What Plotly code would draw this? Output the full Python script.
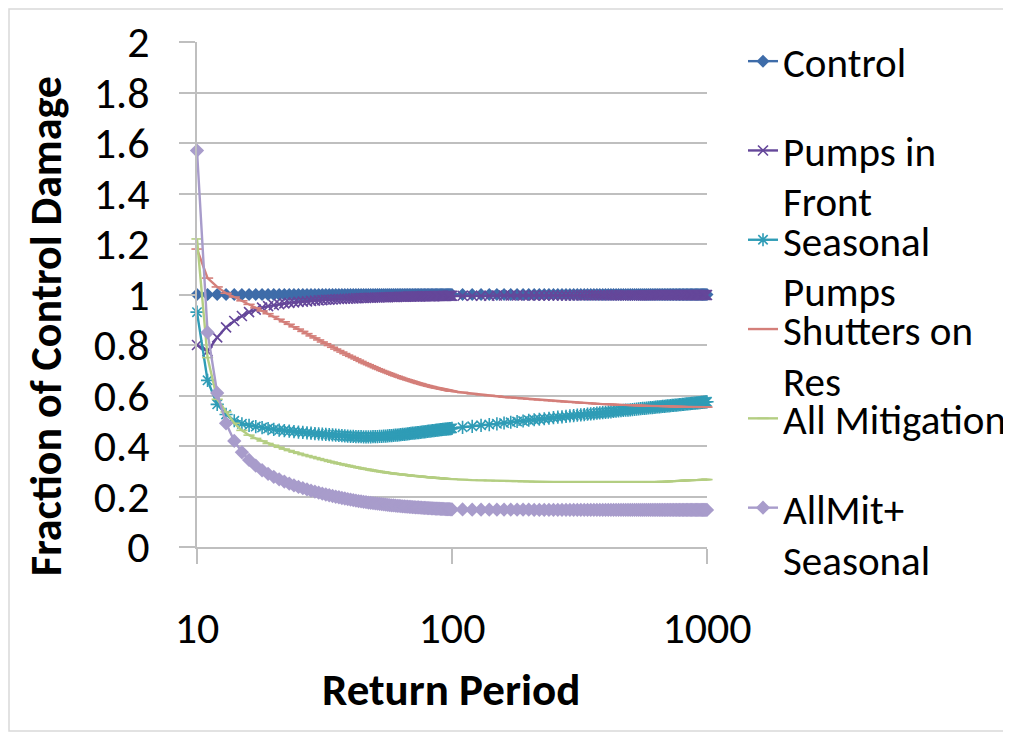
import plotly.graph_objects as go

# Return periods (x categories)
return_period = list(range(10, 101)) + list(range(110, 1001, 10))

control = [
    1.0, 1.0, 1.0, 1.0, 1.0, 1.0, 1.0, 1.0, 1.0, 1.0,
    1.0, 1.0, 1.0, 1.0, 1.0, 1.0, 1.0, 1.0, 1.0, 1.0,
    1.0, 1.0, 1.0, 1.0, 1.0, 1.0, 1.0, 1.0, 1.0, 1.0,
    1.0, 1.0, 1.0, 1.0, 1.0, 1.0, 1.0, 1.0, 1.0, 1.0,
    1.0, 1.0, 1.0, 1.0, 1.0, 1.0, 1.0, 1.0, 1.0, 1.0,
    1.0, 1.0, 1.0, 1.0, 1.0, 1.0, 1.0, 1.0, 1.0, 1.0,
    1.0, 1.0, 1.0, 1.0, 1.0, 1.0, 1.0, 1.0, 1.0, 1.0,
    1.0, 1.0, 1.0, 1.0, 1.0, 1.0, 1.0, 1.0, 1.0, 1.0,
    1.0, 1.0, 1.0, 1.0, 1.0, 1.0, 1.0, 1.0, 1.0, 1.0,
    1.0,
    1.0, 1.0, 1.0, 1.0, 1.0, 1.0, 1.0, 1.0, 1.0, 1.0,
    1.0, 1.0, 1.0, 1.0, 1.0, 1.0, 1.0, 1.0, 1.0, 1.0,
    1.0, 1.0, 1.0, 1.0, 1.0, 1.0, 1.0, 1.0, 1.0, 1.0,
    1.0, 1.0, 1.0, 1.0, 1.0, 1.0, 1.0, 1.0, 1.0, 1.0,
    1.0, 1.0, 1.0, 1.0, 1.0, 1.0, 1.0, 1.0, 1.0, 1.0,
    1.0, 1.0, 1.0, 1.0, 1.0, 1.0, 1.0, 1.0, 1.0, 1.0,
    1.0, 1.0, 1.0, 1.0, 1.0, 1.0, 1.0, 1.0, 1.0, 1.0,
    1.0, 1.0, 1.0, 1.0, 1.0, 1.0, 1.0, 1.0, 1.0, 1.0,
    1.0, 1.0, 1.0, 1.0, 1.0, 1.0, 1.0, 1.0, 1.0, 1.0,
]

pumps_in_front = [
    0.800, 0.775, 0.830, 0.870, 0.895, 0.915, 0.930, 0.940, 0.948, 0.954,
    0.958, 0.962, 0.965, 0.967, 0.969, 0.971, 0.972, 0.973, 0.975, 0.976,
    0.977, 0.978, 0.979, 0.979, 0.980, 0.981, 0.982, 0.982, 0.983, 0.983,
    0.984, 0.984, 0.985, 0.985, 0.986, 0.986, 0.986, 0.987, 0.987, 0.987,
    0.988, 0.988, 0.988, 0.989, 0.989, 0.989, 0.989, 0.990, 0.990, 0.990,
    0.990, 0.990, 0.991, 0.991, 0.991, 0.991, 0.991, 0.992, 0.992, 0.992,
    0.992, 0.992, 0.992, 0.992, 0.992, 0.992, 0.993, 0.993, 0.993, 0.993,
    0.993, 0.993, 0.993, 0.993, 0.993, 0.993, 0.994, 0.994, 0.994, 0.994,
    0.994, 0.994, 0.994, 0.994, 0.994, 0.994, 0.995, 0.995, 0.995, 0.995,
    0.995,
    0.995, 0.995, 0.995, 0.995, 0.996, 0.996, 0.996, 0.996, 0.996, 0.996,
    0.996, 0.996, 0.996, 0.996, 0.996, 0.996, 0.996, 0.996, 0.996, 0.996,
    0.997, 0.997, 0.997, 0.997, 0.997, 0.997, 0.997, 0.997, 0.997, 0.997,
    0.997, 0.997, 0.997, 0.997, 0.997, 0.997, 0.997, 0.997, 0.997, 0.997,
    0.997, 0.997, 0.997, 0.997, 0.997, 0.997, 0.997, 0.997, 0.997, 0.997,
    0.998, 0.998, 0.998, 0.998, 0.998, 0.998, 0.998, 0.998, 0.998, 0.998,
    0.998, 0.998, 0.998, 0.998, 0.998, 0.998, 0.998, 0.998, 0.998, 0.998,
    0.998, 0.998, 0.998, 0.998, 0.998, 0.998, 0.998, 0.998, 0.998, 0.998,
    0.998, 0.998, 0.998, 0.998, 0.998, 0.998, 0.998, 0.998, 0.998, 0.998,
]

seasonal_pumps = [
    0.930, 0.660, 0.565, 0.525, 0.500, 0.488, 0.482, 0.477, 0.473, 0.469,
    0.466, 0.463, 0.461, 0.459, 0.457, 0.455, 0.454, 0.452, 0.451, 0.449,
    0.448, 0.447, 0.446, 0.445, 0.444, 0.443, 0.442, 0.441, 0.440, 0.439,
    0.438, 0.438, 0.437, 0.437, 0.437, 0.436, 0.436, 0.436, 0.436, 0.437,
    0.437, 0.437, 0.438, 0.438, 0.439, 0.439, 0.440, 0.441, 0.441, 0.442,
    0.443, 0.443, 0.444, 0.445, 0.446, 0.446, 0.447, 0.448, 0.449, 0.450,
    0.451, 0.451, 0.452, 0.453, 0.453, 0.454, 0.455, 0.456, 0.456, 0.457,
    0.458, 0.459, 0.459, 0.460, 0.461, 0.461, 0.462, 0.463, 0.463, 0.464,
    0.465, 0.465, 0.466, 0.466, 0.467, 0.467, 0.468, 0.468, 0.469, 0.469,
    0.470,
    0.474, 0.478, 0.482, 0.485, 0.488, 0.491, 0.494, 0.497, 0.499, 0.502,
    0.504, 0.506, 0.508, 0.510, 0.512, 0.514, 0.515, 0.517, 0.519, 0.520,
    0.522, 0.523, 0.524, 0.526, 0.527, 0.528, 0.530, 0.531, 0.532, 0.533,
    0.534, 0.535, 0.537, 0.538, 0.539, 0.540, 0.541, 0.542, 0.542, 0.543,
    0.544, 0.545, 0.546, 0.547, 0.548, 0.549, 0.549, 0.550, 0.551, 0.552,
    0.552, 0.553, 0.554, 0.555, 0.555, 0.556, 0.557, 0.557, 0.558, 0.559,
    0.559, 0.560, 0.561, 0.561, 0.562, 0.562, 0.563, 0.564, 0.564, 0.565,
    0.565, 0.566, 0.567, 0.567, 0.568, 0.568, 0.569, 0.569, 0.570, 0.570,
    0.571, 0.571, 0.572, 0.572, 0.573, 0.573, 0.574, 0.574, 0.575, 0.575,
]

shutters_on_res = [
    1.180, 1.065, 1.030, 1.005, 0.990, 0.975, 0.961, 0.947, 0.935, 0.924,
    0.913, 0.902, 0.892, 0.882, 0.872, 0.863, 0.854, 0.845, 0.836, 0.828,
    0.820, 0.812, 0.805, 0.798, 0.791, 0.784, 0.778, 0.772, 0.766, 0.760,
    0.755, 0.750, 0.745, 0.740, 0.735, 0.730, 0.726, 0.722, 0.718, 0.714,
    0.710, 0.706, 0.703, 0.699, 0.696, 0.693, 0.690, 0.687, 0.684, 0.681,
    0.678, 0.676, 0.673, 0.671, 0.668, 0.666, 0.664, 0.662, 0.660, 0.658,
    0.656, 0.654, 0.652, 0.650, 0.648, 0.647, 0.645, 0.643, 0.642, 0.640,
    0.639, 0.637, 0.636, 0.635, 0.633, 0.632, 0.631, 0.630, 0.629, 0.628,
    0.627, 0.626, 0.625, 0.624, 0.623, 0.622, 0.621, 0.620, 0.619, 0.618,
    0.617,
    0.612, 0.607, 0.603, 0.600, 0.597, 0.594, 0.592, 0.590, 0.588, 0.586,
    0.584, 0.583, 0.581, 0.580, 0.579, 0.577, 0.576, 0.575, 0.574, 0.573,
    0.572, 0.571, 0.570, 0.570, 0.569, 0.568, 0.567, 0.567, 0.566, 0.566,
    0.565, 0.565, 0.564, 0.564, 0.563, 0.563, 0.563, 0.562, 0.562, 0.562,
    0.561, 0.561, 0.561, 0.560, 0.560, 0.560, 0.560, 0.559, 0.559, 0.559,
    0.559, 0.559, 0.558, 0.558, 0.558, 0.558, 0.558, 0.557, 0.557, 0.557,
    0.557, 0.557, 0.557, 0.556, 0.556, 0.556, 0.556, 0.556, 0.556, 0.556,
    0.555, 0.555, 0.555, 0.555, 0.555, 0.555, 0.555, 0.555, 0.555, 0.555,
    0.555, 0.555, 0.555, 0.555, 0.555, 0.554, 0.554, 0.554, 0.554, 0.554,
]

all_mitigation = [
    1.220, 0.750, 0.585, 0.535, 0.490, 0.462, 0.443, 0.430, 0.420, 0.410,
    0.403, 0.395, 0.388, 0.382, 0.376, 0.371, 0.366, 0.362, 0.358, 0.354,
    0.350, 0.346, 0.343, 0.339, 0.336, 0.333, 0.330, 0.328, 0.325, 0.323,
    0.320, 0.318, 0.316, 0.314, 0.312, 0.310, 0.308, 0.307, 0.305, 0.303,
    0.302, 0.300, 0.299, 0.298, 0.297, 0.295, 0.294, 0.293, 0.292, 0.291,
    0.290, 0.289, 0.288, 0.288, 0.287, 0.286, 0.285, 0.285, 0.284, 0.283,
    0.282, 0.282, 0.281, 0.281, 0.280, 0.280, 0.279, 0.278, 0.278, 0.277,
    0.277, 0.276, 0.276, 0.275, 0.275, 0.275, 0.274, 0.274, 0.273, 0.273,
    0.272, 0.272, 0.272, 0.271, 0.271, 0.270, 0.270, 0.270, 0.269, 0.269,
    0.269,
    0.267, 0.265, 0.264, 0.263, 0.262, 0.261, 0.260, 0.260, 0.259, 0.259,
    0.258, 0.258, 0.258, 0.258, 0.258, 0.258, 0.258, 0.258, 0.258, 0.258,
    0.258, 0.258, 0.258, 0.258, 0.258, 0.257, 0.257, 0.257, 0.257, 0.257,
    0.257, 0.257, 0.257, 0.257, 0.257, 0.257, 0.257, 0.257, 0.257, 0.257,
    0.257, 0.257, 0.257, 0.257, 0.257, 0.258, 0.258, 0.258, 0.258, 0.258,
    0.258, 0.258, 0.258, 0.258, 0.258, 0.259, 0.259, 0.259, 0.259, 0.259,
    0.260, 0.260, 0.261, 0.261, 0.261, 0.262, 0.262, 0.262, 0.263, 0.263,
    0.263, 0.263, 0.264, 0.264, 0.264, 0.264, 0.265, 0.265, 0.265, 0.265,
    0.266, 0.266, 0.266, 0.266, 0.266, 0.267, 0.267, 0.267, 0.267, 0.267,
]

allmit_seasonal = [
    1.570, 0.850, 0.610, 0.490, 0.420, 0.375, 0.345, 0.322, 0.304, 0.290,
    0.278, 0.268, 0.259, 0.251, 0.244, 0.238, 0.233, 0.228, 0.223, 0.219,
    0.215, 0.211, 0.208, 0.205, 0.202, 0.199, 0.197, 0.194, 0.192, 0.190,
    0.188, 0.186, 0.184, 0.182, 0.181, 0.179, 0.178, 0.176, 0.175, 0.174,
    0.173, 0.172, 0.171, 0.170, 0.169, 0.168, 0.167, 0.166, 0.165, 0.165,
    0.164, 0.163, 0.163, 0.162, 0.161, 0.161, 0.160, 0.160, 0.159, 0.159,
    0.158, 0.158, 0.157, 0.157, 0.157, 0.156, 0.156, 0.155, 0.155, 0.155,
    0.154, 0.154, 0.154, 0.153, 0.153, 0.153, 0.152, 0.152, 0.152, 0.152,
    0.151, 0.151, 0.151, 0.151, 0.150, 0.150, 0.150, 0.150, 0.150, 0.149,
    0.149,
    0.149, 0.148, 0.148, 0.148, 0.148, 0.148, 0.148, 0.148, 0.148, 0.148,
    0.147, 0.147, 0.147, 0.147, 0.147, 0.147, 0.147, 0.147, 0.147, 0.147,
    0.147, 0.147, 0.147, 0.147, 0.147, 0.147, 0.147, 0.147, 0.147, 0.147,
    0.147, 0.147, 0.147, 0.147, 0.147, 0.147, 0.147, 0.147, 0.147, 0.147,
    0.147, 0.147, 0.147, 0.147, 0.147, 0.147, 0.147, 0.147, 0.147, 0.147,
    0.147, 0.147, 0.147, 0.147, 0.147, 0.147, 0.147, 0.147, 0.147, 0.147,
    0.147, 0.147, 0.147, 0.147, 0.147, 0.147, 0.147, 0.147, 0.147, 0.147,
    0.147, 0.147, 0.147, 0.147, 0.147, 0.147, 0.147, 0.147, 0.147, 0.147,
    0.147, 0.147, 0.147, 0.147, 0.147, 0.147, 0.147, 0.147, 0.147, 0.147,
]

series_names = ["Control", "Pumps in", "Seasonal", "Shutters on", "All Mitigation", "AllMit+"]
legend_second_lines = ["", "Front", "Pumps", "Res", "", "Seasonal"]
x_tick_values = [10, 100, 1000]
x_tick_text = ["10", "100", "1000"]

FONT = "Calibri, Carlito, Lato, sans-serif"

styles = [
    dict(color="#3E6CA9", symbol="diamond", size=10, lw=0),
    dict(color="#65479A", symbol="x-thin", size=10, lw=1.6),
    dict(color="#2F9CB6", symbol="asterisk", size=11, lw=1.6),
    dict(color="#D47F7A", symbol="line-ew", size=8, lw=1.6),
    dict(color="#B4CE82", symbol="line-ew", size=8, lw=1.6),
    dict(color="#A89CCB", symbol="diamond", size=11, lw=0),
]
data = [control, pumps_in_front, seasonal_pumps, shutters_on_res, all_mitigation, allmit_seasonal]

fig = go.Figure()
for i, (name, ys, st) in enumerate(zip(series_names, data, styles)):
    fig.add_trace(go.Scatter(
        x=return_period, y=ys, name=name, mode="lines+markers",
        line=dict(color=st["color"], width=2.4),
        marker=dict(symbol=st["symbol"], size=st["size"], color=st["color"],
                    line=dict(color=st["color"], width=st["lw"])),
        cliponaxis=False, legendgroup=f"g{i}",
    ))

# the page body adds an 8px offset; layout is computed in screen pixels
OFF = 8
W, H = 1011 - OFF, 734 - OFF
L, T = 197 - OFF, 42 - OFF
pw, ph = 510, 505
R = W - L - pw
B = H - T - ph

def px_x(p):
    return (p - OFF - L) / pw

def px_y(p):
    return (H - B - (p - OFF)) / ph

annotations = [
    dict(text="<b>Fraction of Control Damage</b>", x=px_x(46), y=px_y(326), xref="paper", yref="paper",
         textangle=-90, showarrow=False, font=dict(size=44, family=FONT, color="black"),
         xanchor="center", yanchor="middle"),
    dict(text="<b>Return Period</b>", x=px_x(451), y=px_y(689), xref="paper", yref="paper",
         showarrow=False, font=dict(size=45, family=FONT, color="black"),
         xanchor="center", yanchor="middle"),
]
second_line_y = [None, 202, 292, 382, None, 561]
for txt, yy in zip(legend_second_lines, second_line_y):
    if txt:
        annotations.append(dict(text=txt, x=px_x(781), y=px_y(yy), xref="paper", yref="paper",
                                showarrow=False, font=dict(size=41, family=FONT, color="black"),
                                xanchor="left", yanchor="middle"))

fig.update_layout(
    width=W, height=H,
    margin=dict(l=L, r=R, t=T, b=B, autoexpand=False),
    paper_bgcolor="white", plot_bgcolor="white",
    font=dict(family=FONT, size=44, color="black"),
    showlegend=True,
    legend=dict(x=px_x(743), y=px_y(28), xanchor="left", yanchor="top",
                traceorder="grouped", tracegroupgap=33, maxheight=1.0,
                font=dict(size=41, family=FONT, color="black"),
                bgcolor="rgba(0,0,0,0)"),
    xaxis=dict(type="log", range=[1, 3], tickvals=x_tick_values, ticktext=x_tick_text,
               showgrid=False, showline=True, linecolor="#BFBFBF", linewidth=1.5,
               ticks="outside", ticklen=15, tickcolor="#BFBFBF", tickwidth=1.5,
               ticklabelstandoff=26, zeroline=False, automargin=False,
               tickfont=dict(size=44, family=FONT, color="black")),
    yaxis=dict(range=[0, 2], dtick=0.2, showgrid=True, gridcolor="#BFBFBF", gridwidth=1.5,
               showline=True, linecolor="#BFBFBF", linewidth=1.5,
               ticks="outside", ticklen=16, tickcolor="#BFBFBF", tickwidth=1.5,
               ticklabelstandoff=21, zeroline=False, automargin=False,
               tickfont=dict(size=44, family=FONT, color="black")),
    annotations=annotations,
    shapes=[dict(type="rect", xref="paper", yref="paper",
                 x0=px_x(9), x1=px_x(1009), y0=px_y(731), y1=px_y(9),
                 line=dict(color="#D9D9D9", width=1.5), layer="below")],
)

fig.write_html("out.html")
